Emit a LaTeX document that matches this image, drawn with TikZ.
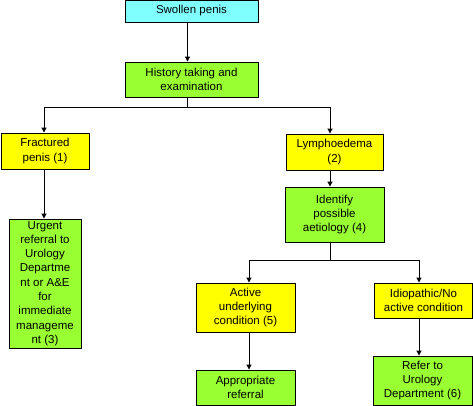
\documentclass[tikz,border=0pt]{standalone}
\usepackage{fontspec}
\setmainfont{Liberation Sans}
\usetikzlibrary{arrows.meta}
\definecolor{boxcyan}{HTML}{80FFFF}
\definecolor{boxgreen}{HTML}{99FF33}
\definecolor{boxyellow}{HTML}{FFFF00}
\tikzset{
  box/.style={draw=black, line width=0.9pt, inner sep=0pt, align=center,
    font=\fontsize{11.5}{14.3}\selectfont},
  cyanbox/.style={box, fill=boxcyan},
  greenbox/.style={box, fill=boxgreen},
  yellowbox/.style={box, fill=boxyellow},
  conn/.style={line width=1pt, -{Triangle[length=5pt,width=5pt]}},
  plainconn/.style={line width=1pt}
}
\begin{document}
\begin{tikzpicture}[x=1pt,y=-1pt]
\useasboundingbox (0,0) rectangle (473,405);
\node[cyanbox, minimum width=133pt, minimum height=22pt] (swollen) at (191.5,11) {Swollen penis};
\node[greenbox, minimum width=133pt, minimum height=35pt] (hist) at (191.5,79.5) {History taking and\\examination};
\node[yellowbox, minimum width=88pt, minimum height=36pt] (frac) at (45,151) {Fractured\\penis (1)};
\node[yellowbox, minimum width=97pt, minimum height=36pt] (lymph) at (334.5,152) {Lymphoedema\\(2)};
\node[greenbox, minimum width=72pt, minimum height=129pt] (urgent) at (45,283.5) {Urgent\\referral to\\Urology\\Departme\\nt or A\&E\\for\\immediate\\manageme\\nt (3)};
\node[greenbox, minimum width=99pt, minimum height=55pt] (ident) at (334.5,214.5) {Identify\\possible\\aetiology (4)};
\node[yellowbox, minimum width=99pt, minimum height=49pt] (active) at (245.5,307.5) {Active\\underlying\\condition (5)};
\node[yellowbox, minimum width=98pt, minimum height=35pt] (idio) at (423.5,300.5) {Idiopathic/No\\active condition};
\node[greenbox, minimum width=99pt, minimum height=35pt] (approp) at (245.5,387.5) {Appropriate\\referral};
\node[greenbox, minimum width=99pt, minimum height=49pt] (refer) at (422.5,380.5) {Refer to\\Urology\\Department (6)};
% connectors
\coordinate (hsplit) at (187.5,107);
\coordinate (isplit) at (330,260);
\draw[conn] (swollen.south -| hsplit) -- (hist.north -| hsplit);
\draw[plainconn] (hist.south -| hsplit) -- (hsplit);
\draw[conn] (hsplit) -| ([xshift=-1pt]frac.north);
\draw[conn] (hsplit) -| (lymph.north -| isplit);
\draw[conn] ([xshift=-1pt]frac.south) -- ([xshift=-1pt]urgent.north);
\draw[conn] (lymph.south -| isplit) -- (ident.north -| isplit);
\draw[plainconn] (ident.south -| isplit) -- (isplit);
\draw[conn] (isplit) -| ([xshift=3.5pt]active.north);
\draw[conn] (isplit) -| ([xshift=-4.5pt]idio.north);
\draw[conn] ([xshift=3.5pt]active.south) -- ([xshift=3.5pt]approp.north);
\draw[conn] ([xshift=-4.5pt]idio.south) -- ([xshift=-3.5pt]refer.north);
\end{tikzpicture}
\end{document}
